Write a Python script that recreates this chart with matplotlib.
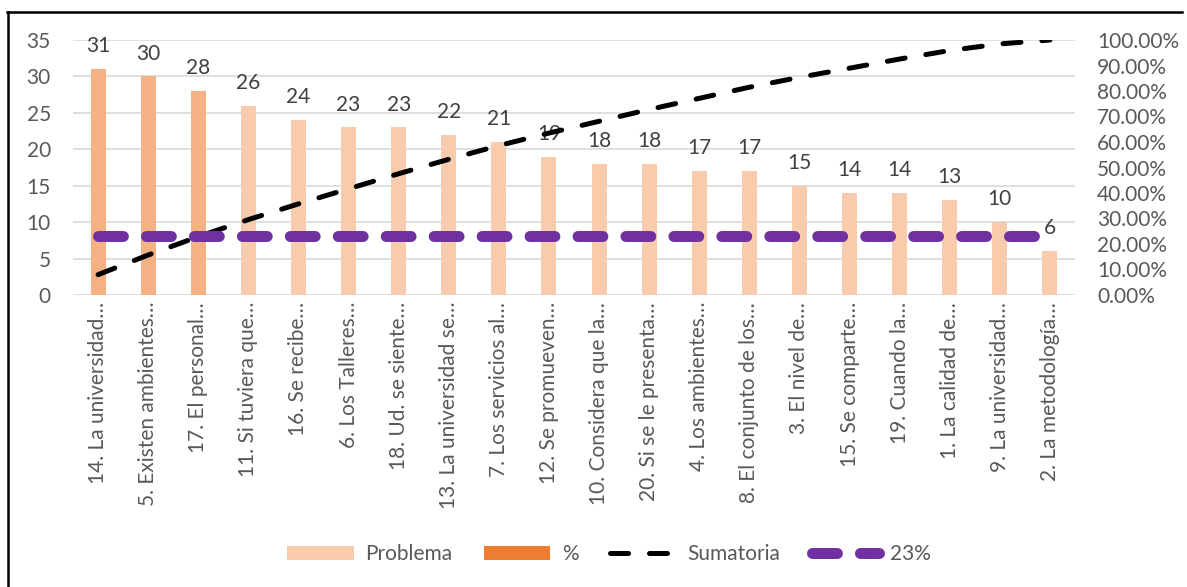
import matplotlib
matplotlib.use("Agg")
import matplotlib.pyplot as plt
from matplotlib.patches import Patch
from matplotlib.lines import Line2D
from matplotlib.ticker import FuncFormatter

plt.rcParams['font.family'] = ['Lato', 'DejaVu Sans']

# Pareto data: items sorted by number of responses
categories = [
    "14. La universidad…", "5. Existen ambientes…", "17. El personal…",
    "11. Si tuviera que…", "16. Se recibe…", "6. Los Talleres…",
    "18. Ud. se siente…", "13. La universidad se…", "7. Los servicios al…",
    "12. Se promueven…", "10. Considera que la…", "20. Si se le presenta…",
    "4. Los ambientes…", "8. El conjunto de los…", "3. El nivel de…",
    "15. Se comparte…", "19. Cuando la…", "1. La calidad de…",
    "9. La universidad…", "2. La metodología…",
]
problema = [31, 30, 28, 26, 24, 23, 23, 22, 21, 19, 18, 18, 17, 17, 15, 14, 14, 13, 10, 6]
# cumulative share of all responses
sumatoria = [0.0797, 0.1568, 0.2288, 0.2956, 0.3573, 0.4165, 0.4756, 0.5321,
             0.5861, 0.6350, 0.6812, 0.7275, 0.7712, 0.8149, 0.8535, 0.8895,
             0.9254, 0.9589, 0.9846, 1.0]
umbral = [0.23] * len(categories)
n_vital = 3  # first items highlighted

c_light = "#F8CBAD"
c_vital = "#F4B183"
c_pct = "#ED7D31"
c_purple = "#7030A0"
c_text = "#595959"
fs = 15

fig = plt.figure(figsize=(11.87, 5.87), dpi=100)
ax = fig.add_axes([73 / 1187, 1 - 295 / 587, (1075 - 73) / 1187, 255 / 587])
ax2 = ax.twinx()

x = list(range(len(categories)))
colors = [c_vital if i < n_vital else c_light for i in x]
ax.bar(x, problema, width=0.3, color=colors, zorder=2)

for xi, v in zip(x, problema):
    ax.annotate(str(v), (xi, v), xytext=(0, 16.5), textcoords="offset points",
                ha="center", va="center", fontsize=fs, color="#404040")

ax.set_xlim(-0.5, len(categories) - 0.5)
ax.set_ylim(0, 35)
ax.set_yticks(range(0, 36, 5))
ax.grid(axis="y", color="#D9D9D9", lw=1.2, zorder=0)
ax.set_axisbelow(True)
ax.set_xticks(x)
ax.set_xticklabels(categories, rotation=90)
ax.tick_params(axis="both", length=0, labelsize=fs, labelcolor=c_text)
ax.tick_params(axis="y", pad=16)
ax.tick_params(axis="x", pad=5)
for s in ax.spines.values():
    s.set_visible(False)

ax2.plot(x, sumatoria, color="black", lw=3.6, dashes=(3.6, 4.2),
         dash_capstyle="round", zorder=3)
ax2.plot(x, umbral, color=c_purple, lw=7.9, dashes=(2.27, 2.1),
         dash_capstyle="round", zorder=4)
ax2.set_ylim(0, 1)
ax2.set_yticks([i / 10 for i in range(11)])
ax2.yaxis.set_major_formatter(FuncFormatter(lambda v, _: f"{v * 100:.2f}%"))
ax2.tick_params(axis="y", length=0, labelsize=fs, labelcolor=c_text, pad=16)
for s in ax2.spines.values():
    s.set_visible(False)

handles = [
    Patch(facecolor=c_light, edgecolor="none"),
    Patch(facecolor=c_pct, edgecolor="none"),
    Line2D([], [], color="black", lw=3.6, dashes=(3.6, 4.2), dash_capstyle="round"),
    Line2D([], [], color=c_purple, lw=7.9, dashes=(2.27, 2.1), dash_capstyle="round"),
]
fig.legend(handles, ["Problema", "%", "Sumatoria", "23%"], ncol=4,
           loc="center", bbox_to_anchor=(609 / 1187, 33 / 587),
           frameon=False, fontsize=fs, handlelength=3.2, handleheight=0.65,
           handletextpad=0.55, columnspacing=1.5, labelcolor=c_text)

# chart frame (top and left edges)
fig.add_artist(Line2D([7 / 1187, 1182 / 1187], [1 - 12 / 587, 1 - 12 / 587],
                      color="black", lw=1.8, transform=fig.transFigure))
fig.add_artist(Line2D([8 / 1187, 8 / 1187], [0, 1 - 12 / 587],
                      color="black", lw=1.8, transform=fig.transFigure))

fig.savefig("out.png", dpi=100, facecolor="white")
